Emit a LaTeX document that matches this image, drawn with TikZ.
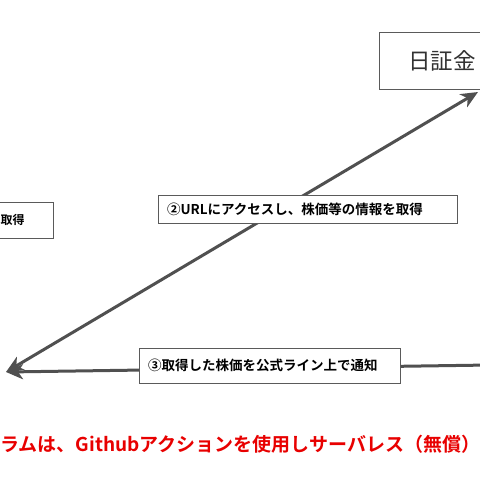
\documentclass[tikz,border=0pt]{standalone}
\usepackage{fontspec}
\newfontfamily\jp{Noto Sans CJK JP}
\newfontfamily\jpb{Noto Sans CJK JP Bold}
\usetikzlibrary{arrows.meta}
\definecolor{linegray}{RGB}{80,80,80}
\definecolor{boxgray}{RGB}{90,90,90}
\definecolor{redtxt}{RGB}{232,0,0}
\tikzset{
  conn/.style={draw=linegray, line width=3pt, {Stealth[length=17pt,width=15pt,inset=5pt]}-},
  conn2/.style={draw=linegray, line width=3pt, {Stealth[length=17pt,width=15pt,inset=5pt]}-{Stealth[length=17pt,width=15pt,inset=5pt]}},
  labbox/.style={draw=boxgray, line width=0.8pt, fill=white, align=left, inner ysep=0pt, font=\jpb\fontsize{13.5pt}{15pt}\selectfont},
}
\begin{document}
\begin{tikzpicture}[x=1pt,y=-1pt]
\useasboundingbox (0,0) rectangle (480,480);
\fill[white] (0,0) rectangle (480,480);
% endpoints
\coordinate (tip) at (6,372);
\coordinate (top) at (478,92);
\coordinate (rightend) at (490,365);
% connectors
\draw[conn2] (tip) -- (top);
\draw[conn] (tip) -- (rightend);
% nodes
\node (nikko) [draw=boxgray, line width=0.8pt, fill=white, anchor=north west,
  minimum height=57pt, inner xsep=29pt, text width=250pt, align=left,
  font=\jp\fontsize{22.5pt}{25pt}\selectfont, text={rgb,255:red,50;green,50;blue,50}] at (379,32) {日証金};
\node (leftbox) [labbox, anchor=north east, minimum height=36pt, inner xsep=0pt,
  text width=120pt, align=right, font=\jpb\fontsize{12pt}{14pt}\selectfont] at (54,202) {取得\rule{29pt}{0pt}};
\node (step2) [labbox, minimum width=299pt, minimum height=28pt, inner xsep=9pt,
  text width=281pt] at (307.5,209) {②URLにアクセスし、株価等の情報を取得};
\node (step3) [labbox, minimum width=261pt, minimum height=35pt, inner xsep=9pt,
  text width=243pt] at (269.5,365.5) {③取得した株価を公式ライン上で通知};
\node (note) [anchor=west, inner xsep=0pt, text=redtxt,
  font=\jpb\fontsize{19pt}{22pt}\selectfont] at (0,444) {ラムは、Githubアクションを使用しサーバレス（無償）};
\end{tikzpicture}
\end{document}
